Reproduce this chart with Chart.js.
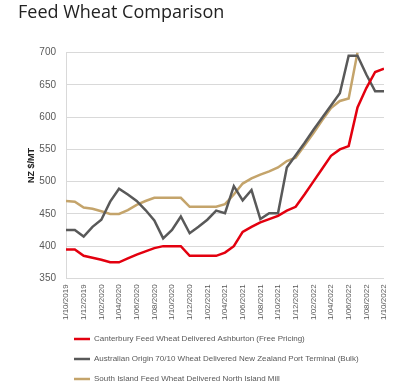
<!DOCTYPE html>
<html>
<head>
<meta charset="utf-8">
<script src="https://cdn.jsdelivr.net/npm/chart.js@4"></script>
<style>
  html, body { margin: 0; padding: 0; background: #fff; }
  #wrap { width: 400px; height: 391px; }
</style>
</head>
<body>
<div id="wrap"><canvas id="chart"></canvas></div>
<script>
// tick labels every 2 months, data is monthly (index 0 = 1/10/2019)
const tickLabels = ["1/10/2019", "1/12/2019", "1/02/2020", "1/04/2020", "1/06/2020", "1/08/2020",
  "1/10/2020", "1/12/2020", "1/02/2021", "1/04/2021", "1/06/2021", "1/08/2021", "1/10/2021",
  "1/12/2021", "1/02/2022", "1/04/2022", "1/06/2022", "1/08/2022", "1/10/2022"];

const canterbury = [395, 395, 385, 382, 379, 375, 375, 381, 387, 392, 397, 400, 400, 400, 385,
  385, 385, 385, 390, 400, 422, 430, 437, 442, 447, 455, 461, 480, 500, 520, 540, 550, 555,
  615, 645, 670, 675];
const australian = [425, 425, 415, 430, 441, 469, 489, 480, 470, 456, 440, 412, 425, 446, 420,
  430, 441, 455, 451, 493, 471, 487, 442, 451, 451, 522, 541, 560, 580, 599, 618, 637, 695,
  695, 666, 640, 640];
const southIsland = [470, 469, 460, 458, 454, 450, 450, 456, 464, 470, 475, 475, 475, 475, 461,
  461, 461, 461, 465, 480, 497, 505, 511, 516, 522, 532, 537, 556, 575, 595, 614, 625, 629,
  700, null, null, null];

const seriesNames = [
  "Canterbury Feed Wheat Delivered Ashburton (Free Pricing)",
  "Australian Origin 70/10 Wheat Delivered New Zealand Port Terminal (Bulk)",
  "South Island Feed Wheat Delivered North Island Mill"
];
const colors = ["#e3000f", "#595959", "#c4a46b"];

const toPoints = arr => arr.map((v, i) => ({ x: i, y: v }));

Chart.defaults.font.family = "'Liberation Sans', Arial, sans-serif";
Chart.defaults.color = "#595959";

// push the legend over (and up a little) so it lines up like the original
const legendShift = {
  id: "legendShift",
  afterLayout(chart) {
    chart.legend.left = 62;
    chart.legend.top -= 3;
  }
};

new Chart(document.getElementById("chart"), {
  type: "line",
  data: {
    datasets: [canterbury, australian, southIsland].map((arr, i) => ({
      label: seriesNames[i],
      data: toPoints(arr),
      borderColor: colors[i],
      backgroundColor: colors[i],
      borderWidth: 2.5,
      pointRadius: 0,
      tension: 0,
      spanGaps: false
    }))
  },
  options: {
    responsive: true,
    maintainAspectRatio: false,
    animation: false,
    layout: { padding: { left: 18, right: 16, top: 0, bottom: -5 } },
    plugins: {
      title: {
        display: true,
        text: "Feed Wheat Comparison",
        align: "start",
        color: "#222",
        font: { family: "'Open Sans', sans-serif", size: 18, weight: "normal" },
        padding: { top: 2, bottom: 29 }
      },
      legend: {
        position: "bottom",
        align: "start",
        labels: {
          usePointStyle: true,
          pointStyle: "line",
          pointStyleWidth: 16,
          boxHeight: 8,
          padding: 12,
          color: "#595959",
          font: { size: 8 }
        }
      },
      tooltip: { enabled: false }
    },
    scales: {
      x: {
        type: "linear",
        min: 0,
        max: 36,
        grid: { display: false, drawTicks: false },
        border: { display: false },
        ticks: {
          stepSize: 2,
          autoSkip: false,
          maxRotation: 90,
          minRotation: 90,
          padding: 6,
          font: { size: 8 },
          color: "#595959",
          callback: v => tickLabels[v / 2]
        }
      },
      y: {
        min: 350,
        max: 700,
        grid: { color: "#d9d9d9", drawTicks: false },
        border: { display: true, color: "#d9d9d9" },
        ticks: { stepSize: 50, padding: 10, font: { size: 10 }, color: "#595959" },
        title: {
          display: true,
          text: "NZ $/MT",
          color: "#222",
          font: { size: 9, weight: "bold" },
          padding: { top: 8, bottom: 0 }
        },
        afterFit(scale) { scale.width = 48; }
      }
    }
  },
  plugins: [legendShift]
});
</script>
</body>
</html>
